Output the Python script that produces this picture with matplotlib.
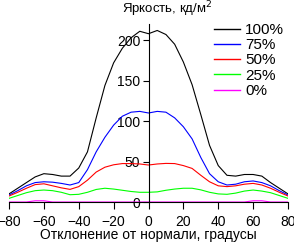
import matplotlib
matplotlib.use('Agg')
import matplotlib.pyplot as plt

plt.rcParams['font.family'] = ['Liberation Sans', 'DejaVu Sans']

angles = list(range(-80, 81, 5))
labels = ['100%', '75%', '50%', '25%', '0%']
colors = ['#000000', '#0000ff', '#ff0000', '#00ff00', '#ff00ff']

lum_100 = [10, 17, 24, 31, 35, 34, 32, 32, 42, 62, 104, 144, 172, 190, 203, 211, 208,
           212, 207, 195, 173, 145, 108, 70, 45, 33, 32, 34, 34, 32, 24, 17, 10]
lum_75 = [8.6, 14, 20, 24, 25, 24.5, 23, 21, 24, 40, 62, 80, 95, 106, 111, 112, 110,
          112, 111, 104, 93, 78, 55, 35, 25, 21, 22, 25, 26, 24, 20, 14, 8.6]
lum_50 = [7.4, 12, 17, 21.5, 22.5, 20, 17.5, 15.6, 19, 27, 37, 43, 46, 47.5, 47.5, 47, 45.7,
          47, 47.7, 47.5, 45, 41.5, 33, 25, 20, 19, 20, 22, 23, 21, 17, 12, 7.4]
lum_25 = [4.5, 8, 11.5, 14, 14.8, 14, 12, 9, 9.5, 12, 15.5, 17, 16, 14.5, 13, 12, 12,
          12.5, 14.5, 16, 17, 17, 15, 12, 10, 9.5, 11, 13.5, 14.8, 13.5, 11.5, 8, 4.5]
lum_0 = [0, 0, 0, 1.5, 1.5, 0, 0, 0, 0, 0, 0, 0, 0, 0, 0, 0, 0,
         0, 0, 0, 0, 0, 0, 0, 0, 0, 0, 0, 1.5, 1.5, 0, 0, 0]

fig = plt.figure(figsize=(2.94, 2.42), dpi=100)
ax = fig.add_axes([9/294, 40/242, 279/294, 178/242])

for vals, lab, col in zip([lum_100, lum_75, lum_50, lum_25, lum_0], labels, colors):
    ax.plot(angles, vals, color=col, lw=0.8, label=lab)

ax.set_xlim(-80, 80)
ax.set_ylim(0, 220)
ax.set_xticks(range(-80, 81, 20))
ax.set_yticks([0, 50, 100, 150, 200])

ax.spines['left'].set_position(('data', 0))
ax.spines['top'].set_visible(False)
ax.spines['right'].set_visible(False)
for s in ['left', 'bottom']:
    ax.spines[s].set_linewidth(0.8)
    ax.spines[s].set_zorder(5)

ax.tick_params(axis='x', direction='out', length=5, width=0.8, pad=4, labelsize=10)
ax.tick_params(axis='y', direction='out', length=4, width=0.8, pad=2, labelsize=10)
ax.patch.set_visible(False)

fig.text(167/294, 1 - 9/242, 'Яркость, кд/м$^2$', ha='center', va='center', fontsize=9.5)
fig.text(148/294, 1 - 239.5/242, 'Отклонение от нормали, градусы', ha='center', va='baseline', fontsize=10)

leg = ax.legend(loc='upper left', bbox_to_anchor=(214/294, 1 - 23/242), bbox_transform=fig.transFigure,
                frameon=False, fontsize=11, handlelength=1.7, handletextpad=0.35,
                labelspacing=0.08, borderpad=0, borderaxespad=0)
for h in leg.get_lines():
    h.set_linewidth(1.0)

fig.savefig('out.png', dpi=100)
